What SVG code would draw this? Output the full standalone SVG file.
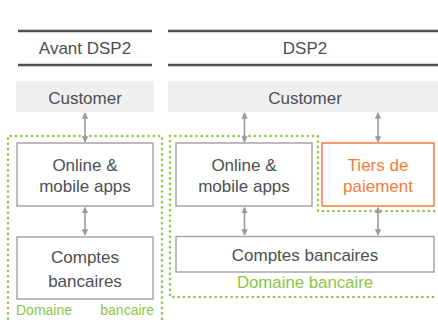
<svg xmlns="http://www.w3.org/2000/svg" width="438" height="322" viewBox="0 0 438 322">
<defs>
<style>
.t{font-family:"Liberation Sans",Arial,sans-serif;font-size:17px;fill:#4d4f53;text-anchor:middle}
.g{font-family:"Liberation Sans",Arial,sans-serif;fill:#8cc63f}
.hdr{stroke:#4d4f53;stroke-width:2.5}
.cust{fill:#efefef}
.box{fill:#fff;stroke:#a6a6a6;stroke-width:1.5}
.tp{fill:#fff;stroke:#f47c3c;stroke-width:1.5}
.dom{fill:none;stroke:#8cc63f;stroke-width:2.6;stroke-dasharray:0 5.3;stroke-linecap:round}
.c{stroke:#9a9a9a;stroke-width:1.6;fill:none;marker-start:url(#a);marker-end:url(#a)}
</style>
<marker id="a" viewBox="0 0 10 10" refX="9" refY="5" markerWidth="4" markerHeight="4" orient="auto-start-reverse" markerUnits="strokeWidth">
<path d="M0,0 L10,5 L0,10 Z" fill="#9a9a9a"/>
</marker>
</defs>

<g id="domains">
<path class="dom" d="M8,324 V136 H162 V324"/>
<path class="dom" d="M170,136 H318 V211 H438 M170,136 V297 H438"/>
</g>

<g id="header-avant">
<line class="hdr" x1="18" y1="31" x2="152" y2="31"/>
<line class="hdr" x1="18" y1="65" x2="152" y2="65"/>
<text class="t" x="85" y="53.5">Avant DSP2</text>
</g>
<g id="header-dsp2">
<line class="hdr" x1="168" y1="31" x2="438" y2="31"/>
<line class="hdr" x1="168" y1="65" x2="438" y2="65"/>
<text class="t" x="305" y="53.5">DSP2</text>
</g>

<g id="customer-left">
<rect class="cust" x="16" y="81" width="138" height="31"/>
<text class="t" x="85" y="104">Customer</text>
</g>
<g id="customer-right">
<rect class="cust" x="168" y="81" width="270" height="31"/>
<text class="t" x="305" y="104">Customer</text>
</g>

<g id="online-left">
<rect class="box" x="17" y="143" width="136" height="63"/>
<text class="t" x="85" y="170.7">Online &amp;</text>
<text class="t" x="85" y="192">mobile apps</text>
</g>
<g id="comptes-left">
<rect class="box" x="17" y="237" width="136" height="62"/>
<text class="t" x="85" y="263.3">Comptes</text>
<text class="t" x="85" y="286.7">bancaires</text>
</g>
<g id="label-left">
<text class="g" x="16" y="315" font-size="14">Domaine</text>
<text class="g" x="154" y="315" font-size="14" text-anchor="end">bancaire</text>
</g>

<g id="online-right">
<rect class="box" x="176" y="143" width="136" height="63"/>
<text class="t" x="244" y="170.7">Online &amp;</text>
<text class="t" x="244" y="192">mobile apps</text>
</g>
<g id="tiers">
<rect class="tp" x="322" y="143" width="112" height="63"/>
<text class="t" x="378" y="170.7" style="fill:#f47c3c">Tiers de</text>
<text class="t" x="378" y="192" style="fill:#f47c3c">paiement</text>
</g>
<g id="comptes-right">
<rect class="box" x="176" y="236.5" width="258" height="35.5"/>
<text class="t" x="305" y="260.7">Comptes bancaires</text>
</g>
<g id="label-right">
<text class="g" x="305" y="288.3" font-size="16.8" text-anchor="middle">Domaine bancaire</text>
</g>

<g id="connectors">
<line class="c" x1="85" y1="113" x2="85" y2="142"/>
<line class="c" x1="85" y1="207.5" x2="85" y2="235"/>
<line class="c" x1="244.5" y1="113" x2="244.5" y2="142"/>
<line class="c" x1="244.5" y1="207.5" x2="244.5" y2="235"/>
<line class="c" x1="378" y1="113" x2="378" y2="142"/>
<line class="c" x1="378" y1="207.5" x2="378" y2="235"/>
</g>
</svg>
